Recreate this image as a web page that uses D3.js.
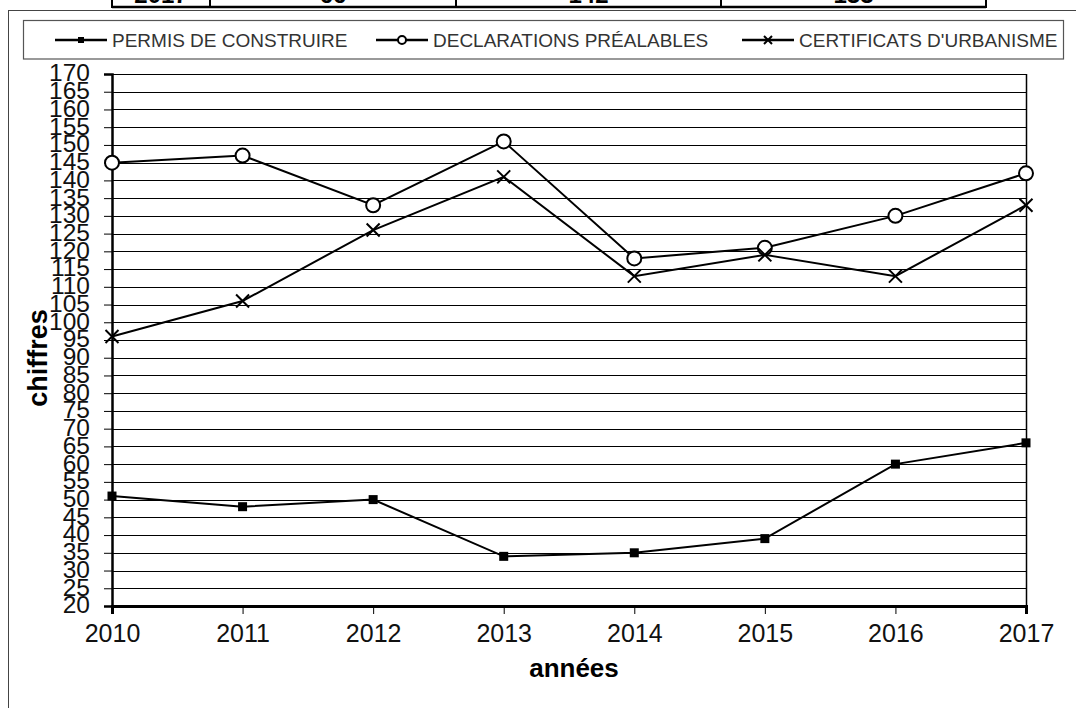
<!DOCTYPE html>
<html>
<head>
<meta charset="utf-8">
<script src="https://cdn.jsdelivr.net/npm/d3@7/dist/d3.min.js"></script>
<style>
  html, body { margin: 0; padding: 0; background: #fff; }
  svg { display: block; font-family: "Liberation Sans", Arial, sans-serif; }
</style>
</head>
<body>
<svg id="chart" width="1076" height="708"></svg>
<script>
// ---- data ----
const years = [2010, 2011, 2012, 2013, 2014, 2015, 2016, 2017];
const permis = [51, 48, 50, 34, 35, 39, 60, 66];
const declarations = [145, 147, 133, 151, 118, 121, 130, 142];
const certificats = [96, 106, 126, 141, 113, 119, 113, 133];
const seriesNames = ["PERMIS DE CONSTRUIRE", "DECLARATIONS PRÉALABLES", "CERTIFICATS D'URBANISME"];
const yTicks = d3.range(20, 171, 5);
const tableRow = ["2017", "66", "142", "133"];

const svg = d3.select("#chart");

// ---- table fragment at top ----
const colEdges = [112, 210, 456, 721, 986];
const tg = svg.append("g");
tableRow.forEach((t, i) => tg.append("text")
  .attr("x", (colEdges[i] + colEdges[i + 1]) / 2).attr("y", 3)
  .attr("text-anchor", "middle").attr("font-size", 24).attr("font-weight", "bold").text(t));
tg.append("line").attr("x1", colEdges[0]).attr("x2", colEdges[4]).attr("y1", 7).attr("y2", 7)
  .attr("stroke", "#000").attr("stroke-width", 2.5);
colEdges.forEach(x => tg.append("line").attr("x1", x).attr("x2", x).attr("y1", 0).attr("y2", 8)
  .attr("stroke", "#000").attr("stroke-width", 2));

// ---- outer frame ----
svg.append("rect").attr("x", 8.5).attr("y", 10.5).attr("width", 1100).attr("height", 800)
  .attr("fill", "none").attr("stroke", "#444").attr("stroke-width", 1);

// ---- legend box ----
svg.append("rect").attr("x", 23.5).attr("y", 20.5).attr("width", 1040).attr("height", 38.5)
  .attr("fill", "#fff").attr("stroke", "#555").attr("stroke-width", 1.2);

// ---- scales ----
const x = d3.scaleLinear().domain([2010, 2017]).range([112, 1026]);
const y = d3.scaleLinear().domain([20, 170]).range([606, 74]);

// ---- gridlines ----
const grid = svg.append("g");
grid.selectAll("line").data(yTicks.filter(v => v > 20)).join("line")
  .attr("x1", x(2010)).attr("x2", x(2017))
  .attr("y1", d => Math.round(y(d)) + 0.5).attr("y2", d => Math.round(y(d)) + 0.5)
  .attr("stroke", "#000").attr("stroke-width", 1);
// right border
svg.append("line").attr("x1", x(2017) + 0.5).attr("x2", x(2017) + 0.5).attr("y1", y(170)).attr("y2", y(20))
  .attr("stroke", "#000").attr("stroke-width", 1.5);

// ---- axes ----
const yAxis = d3.axisLeft(y).tickValues(yTicks).tickSize(8).tickPadding(14).tickFormat(d3.format("d"));
const yg = svg.append("g").attr("transform", `translate(${x(2010)},0)`).call(yAxis);
yg.select(".domain").attr("stroke", "#000").attr("stroke-width", 2.5);
yg.selectAll(".tick line").attr("stroke", "#000").attr("stroke-width", 1);
yg.selectAll(".tick text").attr("font-size", 24.5).attr("fill", "#111")
  .attr("font-family", "'Liberation Sans', Arial, sans-serif").attr("dy", "0.28em");

const xAxis = d3.axisBottom(x).tickValues(years).tickSize(8).tickPadding(10).tickFormat(d3.format("d"));
const xg = svg.append("g").attr("transform", `translate(0,${y(20)})`).call(xAxis);
xg.select(".domain").attr("stroke", "#000").attr("stroke-width", 3);
xg.selectAll(".tick line").attr("stroke", "#000").attr("stroke-width", 1);
xg.selectAll(".tick text").attr("font-size", 25).attr("fill", "#111")
  .attr("font-family", "'Liberation Sans', Arial, sans-serif");

// axis titles
svg.append("text").attr("x", 574).attr("y", 677).attr("text-anchor", "middle")
  .attr("font-size", 26).attr("font-weight", "bold").text("années");
svg.append("text").attr("transform", "translate(47,358) rotate(-90)").attr("text-anchor", "middle")
  .attr("font-size", 27).attr("font-weight", "bold").text("chiffres");

// ---- series ----
const line = d3.line().x((d, i) => x(years[i])).y(d => y(d));
const allSeries = [permis, declarations, certificats];
const sg = svg.append("g");
allSeries.forEach(s => sg.append("path").datum(s).attr("d", line)
  .attr("fill", "none").attr("stroke", "#000").attr("stroke-width", 2));

function drawMarker(g, type, cx, cy, size) {
  if (type === 0) {
    g.append("rect").attr("x", cx - size / 2).attr("y", cy - size / 2).attr("width", size).attr("height", size)
      .attr("fill", "#000");
  } else if (type === 1) {
    g.append("circle").attr("cx", cx).attr("cy", cy).attr("r", size / 2)
      .attr("fill", "#fff").attr("stroke", "#000").attr("stroke-width", 2);
  } else {
    const h = size / 2;
    g.append("path").attr("d", `M${cx - h},${cy - h}L${cx + h},${cy + h}M${cx - h},${cy + h}L${cx + h},${cy - h}`)
      .attr("stroke", "#000").attr("stroke-width", 2).attr("fill", "none");
  }
}
const markerSizes = [9, 14, 13];
allSeries.forEach((s, si) => s.forEach((v, i) => drawMarker(sg, si, x(years[i]), y(v), markerSizes[si])));

// ---- legend ----
const legendX = [55, 376, 742];
const lg = svg.append("g");
seriesNames.forEach((name, i) => {
  const lx = legendX[i], ly = 40;
  lg.append("line").attr("x1", lx).attr("x2", lx + 52).attr("y1", ly).attr("y2", ly)
    .attr("stroke", "#000").attr("stroke-width", 2.5);
  drawMarker(lg, i, lx + 26, ly, [6, 8, 8][i]);
  lg.append("text").attr("x", lx + 57).attr("y", ly + 7).attr("font-size", 19).attr("fill", "#333")
    .text(name);
});
</script>
</body>
</html>
